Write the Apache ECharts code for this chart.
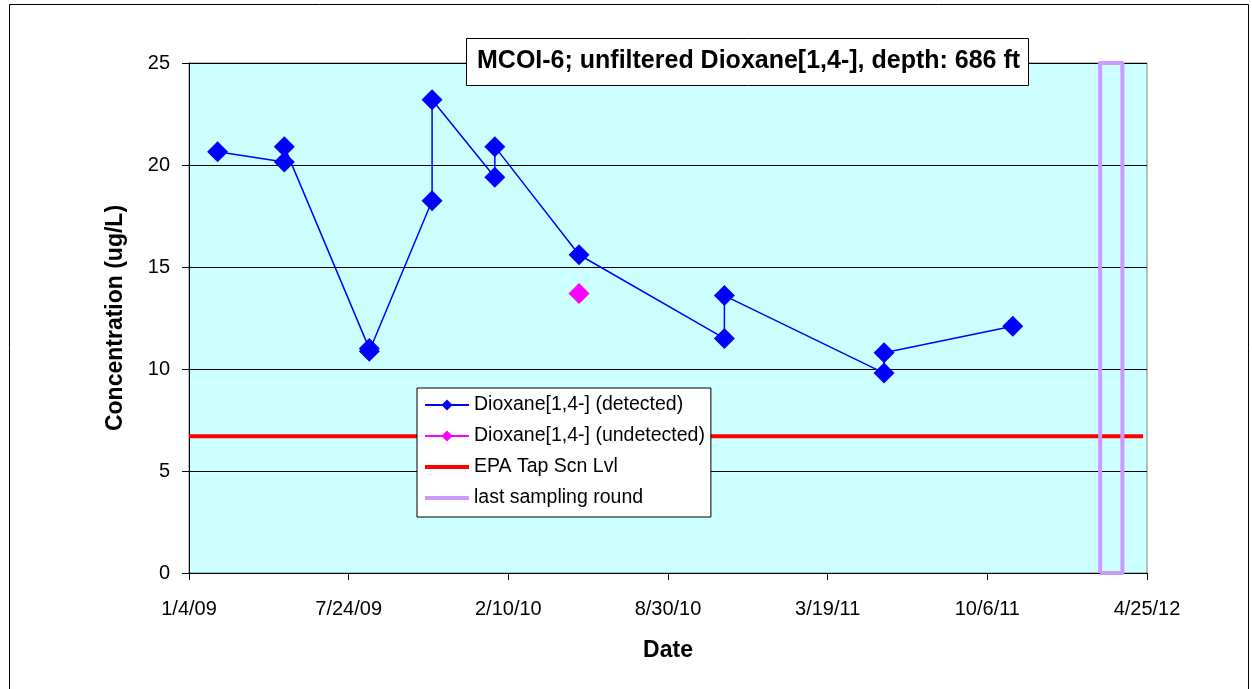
<!DOCTYPE html>
<html>
<head>
<meta charset="utf-8">
<title>MCOI-6 Dioxane[1,4-]</title>
<script src="https://cdn.jsdelivr.net/npm/echarts@6/dist/echarts.min.js"></script>
<style>
  html, body { margin: 0; padding: 0; background: #ffffff; }
  #chart { width: 1252px; height: 689px; }
</style>
</head>
<body>
<div id="chart"></div>
<script>
// Sampling dates and concentrations (ug/L), in drawing order of the connected series
const detectedDates = [
  '2009-02-09', '2009-05-04', '2009-05-04', '2009-08-19', '2009-08-19',
  '2009-11-06', '2009-11-06', '2010-01-24', '2010-01-24', '2010-05-10',
  '2010-11-09', '2010-11-09', '2011-05-29', '2011-05-29', '2011-11-07'
];
const detectedValues = [
  20.65, 20.15, 20.9, 11.0, 10.87,
  18.25, 23.2, 19.4, 20.9, 15.6,
  11.5, 13.6, 9.8, 10.8, 12.1
];

const undetectedDates = ['2010-05-10'];
const undetectedValues = [13.7];

// EPA tap-water screening level
const screeningDates = ['2009-01-04', '2012-04-19'];
const screeningLevel = 6.7;

// Last sampling round window (drawn as an outlined box)
const lastRoundStart = '2012-02-25';
const lastRoundEnd = '2012-03-24';

// Date axis: origin, step between labelled ticks (days), labels
const axisStartDate = '2009-01-04';
const tickStepDays = 201;
const xTickLabels = ['1/4/09', '7/24/09', '2/10/10', '8/30/10', '3/19/11', '10/6/11', '4/25/12'];
const yMin = 0, yMax = 25, yStep = 5;

function dayOffset(s) {
  const [y, m, d] = s.split('-').map(Number);
  const [y0, m0, d0] = axisStartDate.split('-').map(Number);
  return Math.round((Date.UTC(y, m - 1, d) - Date.UTC(y0, m0 - 1, d0)) / 86400000);
}
const pairs = (dates, vals) => dates.map((d, i) => [dayOffset(d), vals[i]]);

const s0 = dayOffset(lastRoundStart), s1 = dayOffset(lastRoundEnd);
const boxData = [[s0, yMin], [s0, yMax], [s1, yMax], [s1, yMin], [s0, yMin]];

const font = 'Liberation Sans, Arial, Helvetica, sans-serif';
const chart = echarts.init(document.getElementById('chart'), null, { renderer: 'canvas' });

chart.setOption({
  animation: false,
  backgroundColor: '#ffffff',
  title: {
    text: 'MCOI-6; unfiltered Dioxane[1,4-], depth: 686 ft',
    left: 466,
    top: 38,
    z: 20,
    padding: [8, 9, 10, 11],
    backgroundColor: '#ffffff',
    borderColor: '#000000',
    borderWidth: 1,
    textStyle: { fontFamily: font, fontSize: 25, fontWeight: 'bold', color: '#000000', lineHeight: 30 }
  },
  legend: {
    orient: 'vertical',
    left: 417,
    top: 388,
    z: 20,
    padding: [6, 6, 8, 6],
    itemGap: 9,
    itemWidth: 44,
    itemHeight: 14,
    backgroundColor: '#ffffff',
    borderColor: '#000000',
    borderWidth: 1,
    textStyle: { fontFamily: font, fontSize: 19.5, color: '#000000', lineHeight: 22 },
    data: [
      'Dioxane[1,4-] (detected)',
      'Dioxane[1,4-] (undetected)',
      { name: 'EPA Tap Scn Lvl', itemStyle: { opacity: 0 }, lineStyle: { width: 4 } },
      { name: 'last sampling round', itemStyle: { opacity: 0 }, lineStyle: { width: 4 } }
    ]
  },
  grid: {
    left: 189,
    right: 105,
    top: 63,
    bottom: 116,
    show: true,
    backgroundColor: '#CCFFFF',
    borderColor: '#808080',
    borderWidth: 1
  },
  xAxis: {
    type: 'value',
    min: 0,
    max: tickStepDays * (xTickLabels.length - 1),
    interval: tickStepDays,
    name: 'Date',
    nameLocation: 'middle',
    nameGap: 66,
    nameTextStyle: { fontFamily: font, fontSize: 23, fontWeight: 'bold', color: '#000000' },
    axisLine: { lineStyle: { color: '#000000', width: 1 } },
    axisTick: { length: 7, lineStyle: { color: '#000000' } },
    axisLabel: {
      margin: 26,
      fontFamily: font, fontSize: 20, color: '#000000',
      formatter: v => xTickLabels[Math.round(v / tickStepDays)]
    },
    splitLine: { show: false }
  },
  yAxis: {
    type: 'value',
    min: yMin,
    max: yMax,
    interval: yStep,
    name: 'Concentration (ug/L)',
    nameLocation: 'middle',
    nameGap: 62,
    nameTextStyle: { fontFamily: font, fontSize: 23, fontWeight: 'bold', color: '#000000' },
    axisLine: { show: true, lineStyle: { color: '#000000', width: 1 } },
    axisTick: { show: true, length: 7, lineStyle: { color: '#000000' } },
    axisLabel: { margin: 19, fontFamily: font, fontSize: 20, color: '#000000' },
    splitLine: { show: true, lineStyle: { color: '#000000', width: 1 } }
  },
  series: [
    {
      name: 'Dioxane[1,4-] (detected)',
      type: 'line',
      data: pairs(detectedDates, detectedValues),
      symbol: 'diamond',
      symbolSize: 21,
      color: '#0000FF',
      itemStyle: { color: '#0000FF' },
      lineStyle: { color: '#0000FF', width: 1.5 },
      z: 4
    },
    {
      name: 'Dioxane[1,4-] (undetected)',
      type: 'line',
      data: pairs(undetectedDates, undetectedValues),
      symbol: 'diamond',
      symbolSize: 21,
      color: '#FF00FF',
      itemStyle: { color: '#FF00FF' },
      lineStyle: { color: '#FF00FF', width: 1.5 },
      z: 4
    },
    {
      name: 'EPA Tap Scn Lvl',
      type: 'line',
      data: screeningDates.map(d => [dayOffset(d), screeningLevel]),
      symbol: 'none',
      color: '#FF0000',
      lineStyle: { color: '#FF0000', width: 4 },
      z: 5
    },
    {
      name: 'last sampling round',
      type: 'line',
      data: boxData,
      symbol: 'none',
      clip: false,
      color: '#CC99FF',
      lineStyle: { color: '#CC99FF', width: 4, join: 'round' },
      z: 6
    }
  ],
  graphic: [
    {
      type: 'rect',
      shape: { x: 9.5, y: 4.5, width: 1239, height: 720 },
      style: { fill: 'none', stroke: '#000000', lineWidth: 1 },
      silent: true,
      z: -10
    }
  ]
});
</script>
</body>
</html>
